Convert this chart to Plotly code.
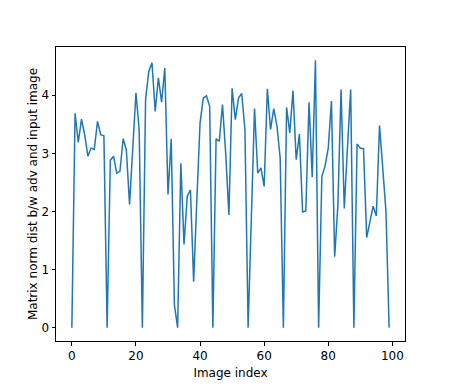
import plotly.graph_objects as go

# distance per image index
image_index = list(range(100))
norm_dist = [
    0.00, 3.69, 3.19, 3.59, 3.32, 2.95, 3.09, 3.07, 3.55, 3.32,
    3.30, 0.00, 2.88, 2.95, 2.66, 2.69, 3.25, 3.06, 2.12, 3.20,
    4.04, 3.41, 0.00, 3.93, 4.41, 4.56, 3.72, 4.30, 3.88, 4.47,
    2.29, 3.25, 0.39, 0.00, 2.83, 1.43, 2.26, 2.37, 0.79, 2.20,
    3.52, 3.95, 3.99, 3.81, 0.00, 3.25, 3.21, 3.84, 3.00, 1.94,
    4.12, 3.58, 3.95, 4.03, 3.41, 0.00, 1.80, 3.77, 2.66, 2.75,
    2.43, 4.11, 3.41, 3.77, 3.47, 2.92, 0.00, 3.79, 3.35, 4.08,
    2.89, 3.33, 1.99, 2.01, 3.88, 2.59, 4.60, 0.00, 2.60, 2.78,
    3.09, 3.90, 1.22, 2.10, 4.10, 2.05, 3.10, 4.10, 0.00, 3.16,
    3.09, 3.08, 1.55, 1.83, 2.09, 1.92, 3.48, 2.75, 2.01, 0.00,
]

fig = go.Figure()
fig.add_trace(go.Scatter(
    x=image_index, y=norm_dist, mode="lines",
    line=dict(color="#1f77b4", width=1.5),
))

axis_style = dict(
    showline=True, linecolor="black", linewidth=1, mirror=True,
    ticks="outside", ticklen=3.5, tickcolor="black",
    showgrid=False, zeroline=False, automargin=False,
    tickfont=dict(size=12, color="black"),
)
fig.update_xaxes(
    range=[-4.95, 103.95], tickvals=[0, 20, 40, 60, 80, 100],
    title=dict(text="Image index", font=dict(size=12, color="black"), standoff=6),
    **axis_style,
)
fig.update_yaxes(
    range=[-0.23, 4.83], tickvals=[0, 1, 2, 3, 4],
    title=dict(text="Matrix norm dist b/w adv and input image",
               font=dict(size=12, color="black"), standoff=1),
    **axis_style,
)
# the page body adds an 8px offset, so margins are shifted to compensate
fig.update_layout(
    width=450, height=388,
    margin=dict(l=48, r=53, t=39, b=55),
    paper_bgcolor="white", plot_bgcolor="white",
    font=dict(family="DejaVu Sans", color="black"),
    showlegend=False,
)

fig.write_html("out.html")
